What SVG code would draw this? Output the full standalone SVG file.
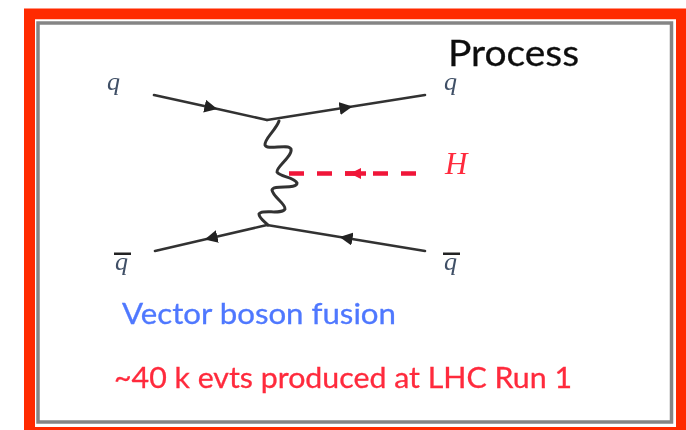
<svg xmlns="http://www.w3.org/2000/svg" width="686" height="430" viewBox="0 0 686 430">
<defs>
<filter id="soft" x="-5%" y="-5%" width="110%" height="110%"><feGaussianBlur stdDeviation="0.6"/></filter>
<marker id="ah" viewBox="0 0 12 12" refX="6" refY="6" markerWidth="13" markerHeight="13" markerUnits="userSpaceOnUse" orient="auto"><path d="M0 0L12 6L0 12Z" fill="#222"/></marker>
</defs>
<style>
.line{fill:none;stroke:#333;stroke-width:2.6;stroke-linecap:round}
.it{font-family:"Liberation Serif",serif;font-style:italic;font-size:26px}
.sans{font-family:Lato,"Open Sans",sans-serif;stroke-width:.3}
</style>
<rect width="686" height="430" fill="#fff"/>
<g id="frame">
<rect x="29.500" y="14" width="652" height="418.500" fill="none" stroke="#ff2a00" stroke-width="11"/>
<rect x="35" y="19.500" width="641" height="407.500" fill="#fff"/>
<rect x="38" y="23" width="633.500" height="399" fill="#fff" stroke="#858585" stroke-width="3.500" filter="url(#soft)"/>
</g>
<g filter="url(#soft)">
<g id="connectors">
<path class="line" d="M154 95L211 107.600L267 120" marker-mid="url(#ah)"/>
<path class="line" d="M267 120L346 107.500L425 95" marker-mid="url(#ah)"/>
<path class="line" d="M267 225L211 238L155 251" marker-mid="url(#ah)"/>
<path class="line" d="M425 251L346 238L267 225" marker-mid="url(#ah)"/>
<path class="line" style="stroke-width:3" d="M279 121C276 130 264 139 265 145C267 151 288 143 291 149C293 156 276 167 277 172C280 177 294 177 297 183C297 190 273 184 272 190C273 197 286 204 285 209C282 215 262 209 259 214C259 218 264 221 268 225"/>
<path d="M289 173.500H427" fill="none" stroke="#f01438" stroke-width="4.500" stroke-dasharray="15 13"/>
<path d="M345 173.500H366" fill="none" stroke="#f01438" stroke-width="4.500"/>
<path d="M361 168L350 173.500L361 179Z" fill="#f01438"/>
</g>
<g id="q-in"><text class="it" x="107" y="90" fill="#3f4f66">q</text></g>
<g id="q-out"><text class="it" x="444" y="90" fill="#3f4f66">q</text></g>
<g id="higgs"><text class="it" x="445" y="174" fill="#ff2a3c" style="font-size:31px">H</text></g>
<g id="qbar-in"><text class="it" x="115" y="270" fill="#3f4f66">q</text><rect x="114" y="252.500" width="17" height="2.500" fill="#222"/></g>
<g id="qbar-out"><text class="it" x="444" y="270" fill="#3f4f66">q</text><rect x="443" y="252.500" width="17" height="2.500" fill="#222"/></g>
<g id="title"><text class="sans" x="448" y="66" font-size="36" fill="#111" stroke="#111" textLength="131" lengthAdjust="spacingAndGlyphs">Process</text></g>
<g id="process"><text class="sans" x="122" y="324" font-size="28" fill="#4f78ff" stroke="#4f78ff" textLength="274" lengthAdjust="spacingAndGlyphs">Vector boson fusion</text></g>
<g id="events"><text class="sans" x="114" y="388" font-size="28" fill="#ff2a3c" stroke="#ff2a3c" textLength="458" lengthAdjust="spacingAndGlyphs">~40 k evts produced at LHC Run 1</text></g>
</g>
</svg>
